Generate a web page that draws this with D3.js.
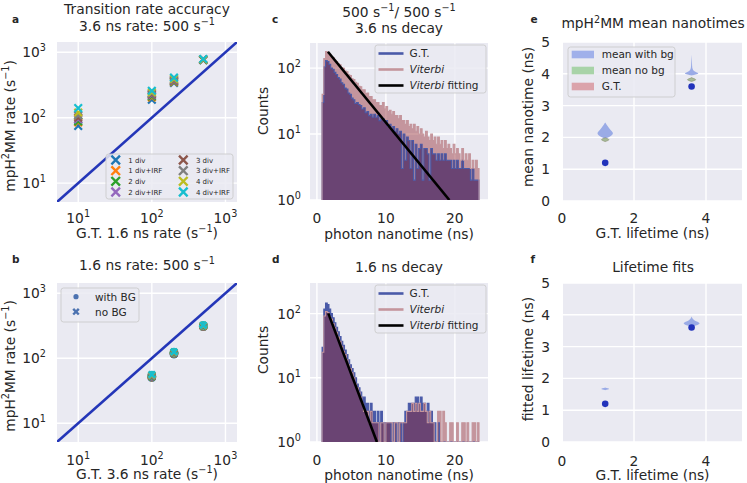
<!DOCTYPE html>
<html><head><meta charset="utf-8">
<script src="https://cdn.jsdelivr.net/npm/d3@7"></script>
<style>
body{margin:0;background:#fff}
text{font-family:"DejaVu Sans",sans-serif;fill:#262626}
</style>
</head><body>
<script>
// ---------------- DATA ----------------
// panel a
const rateGTa = [10, 100, 200, 500];
const divSeries = ["1 div","1 div+IRF","2 div","2 div+IRF","3 div","3 div+IRF","4 div","4 div+IRF"];
const divColors = ["#1f77b4","#ff7f0e","#2ca02c","#9467bd","#8c564b","#7f7f7f","#bcbd22","#17becf"];
const rateA = [[75,188,340,760],[85,205,350,770],[88,212,358,765],[95,220,365,775],
               [100,226,372,770],[108,234,380,780],[120,245,392,775],[140,258,410,790]];
// panel b
const rateGTb = [100, 200, 500];
const rateBwithBG = [[50,115,305],[51,118,308],[52,119,310],[52,120,312],[53,121,313],[53,122,315],[54,123,317],[55,124,320]];
const rateBnoBG   = [[51,117,307],[52,119,309],[52,120,311],[53,121,313],[54,122,314],[54,123,316],[55,124,318],[56,125,321]];
const diagLine = [4, 2000];
const logTicks = [10, 100, 1000];
// panels c, d : nanotime histograms (bins of 0.25 ns starting at 0.75 ns)
const binStart = 0.75, binWidth = 0.25;
const histC_viterbi = [40,140,178,170,162,148,144,131,126,116,112,102,99,90,88,79,77,69,67,61,
  59,53,52,47,47,41,42,37,37,33,33,30,30,27,27,30,24,26,22,23,20,22,19,19,17,19,16,16,14,16,
  13,14,12,14,11,13,10,12,10,9,11,9,8,10,8,9,7,9,7,8,6,8,6,7,6,5,7,5,6,5,4,6,4,5,4,5,3,4,3,4,3];
const histC_gt = [30,105,130,126,114,100,96,86,80,72,68,60,57,50,48,42,40,35,33,29,
  30,28,27,24,25,21,22,19,20,18,20,18,19,16,17,17,15,16,13,14,12,13,11,12,10,11,3,10,4,9,
  8,3,8,2,7,3,6,7,2,6,6,5,2,6,5,5,4,5,4,5,4,5,4,4,4,3,4,3,4,3,3,4,3,3,3,3,2,3,2,2,2];
const histD_gt = [30,118,146,138,118,100,86,72,61,52,44,37,32,27,23,19,16,14,12,10,
  8,7,6,5,5,4,4,3,4,3,3,2,3,2,3,2,2,2,2,2,0,2,2,0,2,2,0,2,3,3,
  4,4,4,4,5,5,4,5,4,4,3,4,3,3,2,2,0,2,0,0,0,0,0,0,0,0,0,0,0,0,0,0,0,0,0,0,0,0,0,0,0];
const histD_viterbi = [25,92,108,104,90,82,70,60,51,43,37,31,26,23,19,16,14,12,10,8,
  7,6,5,4,3,3,3,2,3,2,2,2,2,0,2,2,0,2,2,2,2,0,2,2,0,2,2,2,2,3,
  3,3,4,3,4,3,4,3,3,4,3,2,3,2,2,0,0,3,3,0,3,2,0,0,2,2,0,0,2,0,0,2,2,0,2,0,0,2,2,0,2];
const fitC = [[1.6,177],[19.2,1]];
const fitD = [[1.65,101],[8.7,1]];
const decadeTicks = [1, 10, 100];
const nsTicks = [0, 10, 20];
// panels e, f
const gtLifetime = [1.2, 3.6];
const lifeTicksX = [0, 2, 4];
const lifeTicksY = [0, 1, 2, 3, 4, 5];
// violin profiles: [value, half width]
const violinE_withBg = [
  [[1.96,0],[2.0,0.10],[2.05,0.17],[2.1,0.21],[2.15,0.22],[2.2,0.18],[2.27,0.12],[2.35,0.07],[2.42,0.03],[2.47,0]],
  [[3.95,0],[3.98,0.12],[4.01,0.21],[4.04,0.15],[4.08,0.06],[4.15,0.02],[4.3,0.012],[4.6,0]]];
const violinE_noBg = [
  [[1.87,0],[1.9,0.08],[1.93,0.12],[1.96,0.07],[1.99,0]],
  [[3.76,0],[3.79,0.1],[3.82,0.13],[3.85,0.06],[3.88,0]]];
const violinE_gt = [
  [[1.88,0],[1.91,0.07],[1.93,0.1],[1.95,0.06],[1.98,0]],
  [[3.77,0],[3.8,0.08],[3.82,0.11],[3.84,0.05],[3.87,0]]];
const violinF_fit = [
  [[1.63,0],[1.65,0.08],[1.67,0.12],[1.69,0.08],[1.71,0]],
  [[3.62,0],[3.66,0.12],[3.7,0.21],[3.74,0.23],[3.78,0.17],[3.82,0.08],[3.88,0.02],[3.95,0]]];

// ---------------- DRAW ----------------
const FS = 13.8, BG = "#eaeaf2";
const BLUE = "#4a5aa8", PINK = "#c4959c", DOT = "#2233bb";
const svg = d3.select("body").append("svg").attr("width", 747).attr("height", 483);
const defs = svg.append("defs");

function richText(g, x, y, parts, o = {}) {
  const fs = o.fs || FS;
  const t = g.append("text").attr("x", x).attr("y", y).attr("font-size", fs)
    .attr("text-anchor", o.anchor || "start");
  if (o.rotate) t.attr("transform", `rotate(-90,${x},${y})`);
  if (o.weight) t.attr("font-weight", o.weight);
  let raised = false; const sh = fs * 0.42;
  parts.forEach(p => {
    const [s, kind] = Array.isArray(p) ? p : [p, ""];
    const ts = t.append("tspan").text(s);
    if (kind === "sup") { ts.attr("font-size", fs * 0.7); if (!raised) { ts.attr("dy", -sh); raised = true; } }
    else { if (raised) { ts.attr("dy", sh); raised = false; } if (kind === "i") ts.attr("font-style", "italic"); }
  });
  return t;
}

function frame(id, box, xs, ys, xt, yt) {
  const g = svg.append("g");
  g.append("rect").attr("x", box.x0).attr("y", box.y0).attr("width", box.x1 - box.x0)
    .attr("height", box.y1 - box.y0).attr("fill", BG);
  xt.forEach(v => g.append("line").attr("x1", xs(v)).attr("x2", xs(v)).attr("y1", box.y0).attr("y2", box.y1)
    .attr("stroke", "#fff").attr("stroke-width", 1.4));
  yt.forEach(v => g.append("line").attr("y1", ys(v)).attr("y2", ys(v)).attr("x1", box.x0).attr("x2", box.x1)
    .attr("stroke", "#fff").attr("stroke-width", 1.4));
  defs.append("clipPath").attr("id", id).append("rect").attr("x", box.x0).attr("y", box.y0)
    .attr("width", box.x1 - box.x0).attr("height", box.y1 - box.y0);
  return g;
}
const expOf = v => String(Math.round(Math.log10(v)));
function legendBox(g, x, y, w, h) {
  g.append("rect").attr("x", x).attr("y", y).attr("width", w).attr("height", h).attr("rx", 2.5)
    .attr("fill", BG).attr("fill-opacity", 0.85).attr("stroke", "#cccccc").attr("stroke-width", 0.9);
}
function xMark(g, x, y, s, color, w) {
  g.append("path").attr("d", `M${x - s},${y - s}L${x + s},${y + s}M${x - s},${y + s}L${x + s},${y - s}`)
    .attr("stroke", color).attr("stroke-width", w).attr("fill", "none");
}

// ===== panel a =====
{
  const box = {x0: 57, x1: 237, y0: 42, y1: 202};
  const xs = d3.scaleLog().domain([5.15, 1435]).range([box.x0, box.x1]);
  const ys = d3.scaleLog().domain([5.15, 1435]).range([box.y1, box.y0]);
  const g = frame("clipA", box, xs, ys, logTicks, logTicks);
  const dg = g.append("g").attr("clip-path", "url(#clipA)");
  dg.append("line").attr("x1", xs(diagLine[0])).attr("y1", ys(diagLine[0])).attr("x2", xs(diagLine[1])).attr("y2", ys(diagLine[1]))
    .attr("stroke", "#2436b8").attr("stroke-width", 2.6);
  rateA.forEach((ser, si) => ser.forEach((v, i) => xMark(dg, xs(rateGTa[i]), ys(v), 3.8, divColors[si], 2.2)));
  logTicks.forEach(v => {
    richText(g, xs(v), 222.5, ["10", [expOf(v), "sup"]], {anchor: "middle"});
    richText(g, 46, ys(v) + 5, ["10", [expOf(v), "sup"]], {anchor: "end"});
  });
  richText(g, 147, 237.5, ["G.T. 1.6 ns rate (s", ["\u22121", "sup"], ")"], {anchor: "middle"});
  richText(g, 15, 126, ["mpH", ["2", "sup"], "MM rate (s", ["\u22121", "sup"], ")"], {anchor: "middle", rotate: true});
  richText(g, 147, 13.5, ["Transition rate accuracy"], {anchor: "middle"});
  richText(g, 147, 31, ["3.6 ns rate: 500 s", ["\u22121", "sup"]], {anchor: "middle"});
  richText(g, 12, 23, ["a"], {fs: 10.5, weight: "bold"});
  legendBox(g, 106, 154, 127, 45);
  const rowsY = [160, 170.7, 181.3, 192], colX = [115.7, 183.3];
  divSeries.forEach((s, i) => {
    const c = Math.floor(i / 4), r = i % 4;
    xMark(g, colX[c], rowsY[r], 4.3, divColors[i], 2.4);
    g.append("text").attr("x", colX[c] + 12.6).attr("y", rowsY[r] + 2.5).attr("font-size", 7).text(s);
  });
}

// ===== panel b =====
{
  const box = {x0: 57, x1: 237, y0: 283, y1: 442};
  const xs = d3.scaleLog().domain([5.15, 1435]).range([box.x0, box.x1]);
  const ys = d3.scaleLog().domain([5.15, 1435]).range([box.y1, box.y0]);
  const g = frame("clipB", box, xs, ys, logTicks, logTicks);
  const dg = g.append("g").attr("clip-path", "url(#clipB)");
  dg.append("line").attr("x1", xs(diagLine[0])).attr("y1", ys(diagLine[0])).attr("x2", xs(diagLine[1])).attr("y2", ys(diagLine[1]))
    .attr("stroke", "#2436b8").attr("stroke-width", 2.6);
  rateBwithBG.forEach((ser, si) => ser.forEach((v, i) =>
    dg.append("circle").attr("cx", xs(rateGTb[i])).attr("cy", ys(v)).attr("r", 4.3).attr("fill", divColors[si])));
  rateBnoBG.forEach((ser, si) => ser.forEach((v, i) => xMark(dg, xs(rateGTb[i]), ys(v), 3.2, divColors[si], 2.6)));
  logTicks.forEach(v => {
    richText(g, xs(v), 464.5, ["10", [expOf(v), "sup"]], {anchor: "middle"});
    richText(g, 46, ys(v) + 5, ["10", [expOf(v), "sup"]], {anchor: "end"});
  });
  richText(g, 147, 479, ["G.T. 3.6 ns rate (s", ["\u22121", "sup"], ")"], {anchor: "middle"});
  richText(g, 15, 366, ["mpH", ["2", "sup"], "MM rate (s", ["\u22121", "sup"], ")"], {anchor: "middle", rotate: true});
  richText(g, 147, 270, ["1.6 ns rate: 500 s", ["\u22121", "sup"]], {anchor: "middle"});
  richText(g, 12, 262.5, ["b"], {fs: 10.5, weight: "bold"});
  legendBox(g, 61, 288, 78, 34);
  g.append("circle").attr("cx", 76).attr("cy", 296.7).attr("r", 2.6).attr("fill", "#4c72b0");
  xMark(g, 76, 311.7, 2.8, "#4c72b0", 2.4);
  g.append("text").attr("x", 95).attr("y", 300.5).attr("font-size", 10.5).text("with BG");
  g.append("text").attr("x", 95).attr("y", 315.5).attr("font-size", 10.5).text("no BG");
}

// ===== panels c, d =====
function histPanel(id, box, yTop, gt, vit, fit, titles, label, labelY, xTickY, xLabY, yLabY) {
  const xs = d3.scaleLinear().domain([-1.0, 24.8]).range([box.x0, box.x1]);
  const ys = d3.scaleLog().domain([1, yTop]).range([box.y1, box.y0]);
  const g = frame(id, box, xs, ys, nsTicks, decadeTicks);
  const dg = g.append("g").attr("clip-path", `url(#${id})`);
  const base = box.y1;
  const X = i => xs(binStart + i * binWidth);
  const Y = v => v > 1 ? ys(v) : base;
  const outline = vals => {
    let p = `M${X(0)},${base}`;
    vals.forEach((v, i) => { p += `L${X(i)},${Y(v)}L${X(i + 1)},${Y(v)}`; });
    return p + `L${X(vals.length)},${base}`;
  };
  dg.append("path").attr("d", outline(gt) + "Z").attr("fill", BLUE);
  dg.append("path").attr("d", outline(vit) + "Z").attr("fill", "rgb(148,41,47)").attr("fill-opacity", 0.44);
  dg.append("path").attr("d", outline(gt)).attr("fill", "none").attr("stroke", BLUE).attr("stroke-width", 1.1);
  dg.append("path").attr("d", outline(vit)).attr("fill", "none").attr("stroke", PINK).attr("stroke-width", 1.1);
  dg.append("path").attr("d", d3.line().x(d => xs(d[0])).y(d => ys(d[1]))(fit))
    .attr("stroke", "#000").attr("stroke-width", 2.6).attr("fill", "none");
  nsTicks.forEach(v => richText(g, xs(v), xTickY, [String(v)], {anchor: "middle"}));
  decadeTicks.forEach(v => richText(g, 301, ys(v) + 5, ["10", [expOf(v), "sup"]], {anchor: "end"}));
  richText(g, 399, xLabY, ["photon nanotime (ns)"], {anchor: "middle"});
  richText(g, 268.3, yLabY, ["Counts"], {anchor: "middle", rotate: true});
  titles.forEach(t => richText(g, 399, t.y, t.parts, {anchor: "middle"}));
  richText(g, 272, labelY, [label], {fs: 10.5, weight: "bold"});
  const ly = box.y0 + 2;
  legendBox(g, 375, ly, 111, 48);
  const rows = [[BLUE, [["G.T.", ""]]], [PINK, [["Viterbi", "i"]]], ["#000", [["Viterbi", "i"], [" fitting", ""]]]];
  rows.forEach((r, i) => {
    const yy = ly + 8.5 + i * 16;
    g.append("line").attr("x1", 378.5).attr("x2", 403.5).attr("y1", yy).attr("y2", yy).attr("stroke", r[0]).attr("stroke-width", 2.6);
    richText(g, 409.5, yy + 3.8, r[1], {fs: 10.5});
  });
}
histPanel("clipC", {x0: 310, x1: 488, y0: 43, y1: 200}, 240, histC_gt, histC_viterbi, fitC,
  [{y: 16.5, parts: ["500 s", ["\u22121", "sup"], "/ 500 s", ["\u22121", "sup"]]}, {y: 32.5, parts: ["3.6 ns decay"]}],
  "c", 23.3, 222.5, 238.5, 111);
histPanel("clipD", {x0: 310, x1: 488, y0: 283, y1: 442}, 300, histD_gt, histD_viterbi, fitD,
  [{y: 271.7, parts: ["1.6 ns decay"]}], "d", 262.7, 464.5, 479.5, 350);

// ===== panels e, f =====
function lifePanel(id, box, titles, yLab, yLabY, label, labelY, xTickY, xLabY) {
  const xs = d3.scaleLinear().domain([0, 5]).range([box.x0 - 1, box.x1]);
  const ys = d3.scaleLinear().domain([0, 5]).range([box.y1, box.y0]);
  const g = frame(id, box, xs, ys, lifeTicksX, lifeTicksY);
  const dg = g.append("g").attr("clip-path", `url(#${id})`);
  lifeTicksX.forEach(v => richText(g, xs(v), xTickY, [String(v)], {anchor: "middle"}));
  lifeTicksY.forEach(v => richText(g, 550, ys(v) + 5, [String(v)], {anchor: "end"}));
  richText(g, 652.5, xLabY, ["G.T. lifetime (ns)"], {anchor: "middle"});
  richText(g, 533, yLabY, [yLab], {anchor: "middle", rotate: true});
  titles.forEach(t => richText(g, 653, t.y, t.parts, {anchor: "middle"}));
  richText(g, 530.5, labelY, [label], {fs: 10.5, weight: "bold"});
  return {g, dg, xs, ys};
}
function violin(dg, xs, ys, prof, cx, fill, stroke) {
  const area = d3.area().curve(d3.curveBasis).y(d => ys(d[0]))
    .x0(d => xs(cx - d[1])).x1(d => xs(cx + d[1]));
  const p = dg.append("path").attr("d", area(prof)).attr("fill", fill);
  if (stroke) p.attr("stroke", stroke).attr("stroke-width", 0.5);
}
{
  const P = lifePanel("clipE", {x0: 563, x1: 742, y0: 42, y1: 201},
    [{y: 28.3, parts: ["mpH", ["2", "sup"], "MM mean nanotimes"]}], "mean nanotime (ns)", 117, "e", 23, 222.5, 238);
  gtLifetime.forEach((c, i) => {
    violin(P.dg, P.xs, P.ys, violinE_withBg[i], c, "#9aabe6");
    violin(P.dg, P.xs, P.ys, violinE_gt[i], c, "#d79aa4", "#a08070");
    violin(P.dg, P.xs, P.ys, violinE_noBg[i], c, "rgba(150,200,150,0.7)", "#8a9070");
  });
  gtLifetime.forEach(c => P.dg.append("circle").attr("cx", P.xs(c)).attr("cy", P.ys(c)).attr("r", 3.3).attr("fill", DOT));
  const g = P.g;
  legendBox(g, 568, 47, 107, 50);
  [["#a0b0ea", "mean with bg"], ["#a8d3a8", "mean no bg"], ["#dba3ab", "G.T."]].forEach((r, i) => {
    const yy = 54.5 + i * 16;
    g.append("rect").attr("x", 571.7).attr("y", yy - 3.8).attr("width", 22.3).attr("height", 7.6).attr("fill", r[0]);
    g.append("text").attr("x", 601.7).attr("y", yy + 3.8).attr("font-size", 10.5).text(r[1]);
  });
}
{
  const P = lifePanel("clipF", {x0: 563, x1: 742, y0: 283, y1: 442},
    [{y: 272, parts: ["Lifetime fits"]}], "fitted lifetime (ns)", 359, "f", 262.7, 465.5, 480);
  gtLifetime.forEach((c, i) => violin(P.dg, P.xs, P.ys, violinF_fit[i], c, "#9aabe6"));
  gtLifetime.forEach(c => P.dg.append("circle").attr("cx", P.xs(c)).attr("cy", P.ys(c)).attr("r", 3.3).attr("fill", DOT));
}
</script>
</body></html>
